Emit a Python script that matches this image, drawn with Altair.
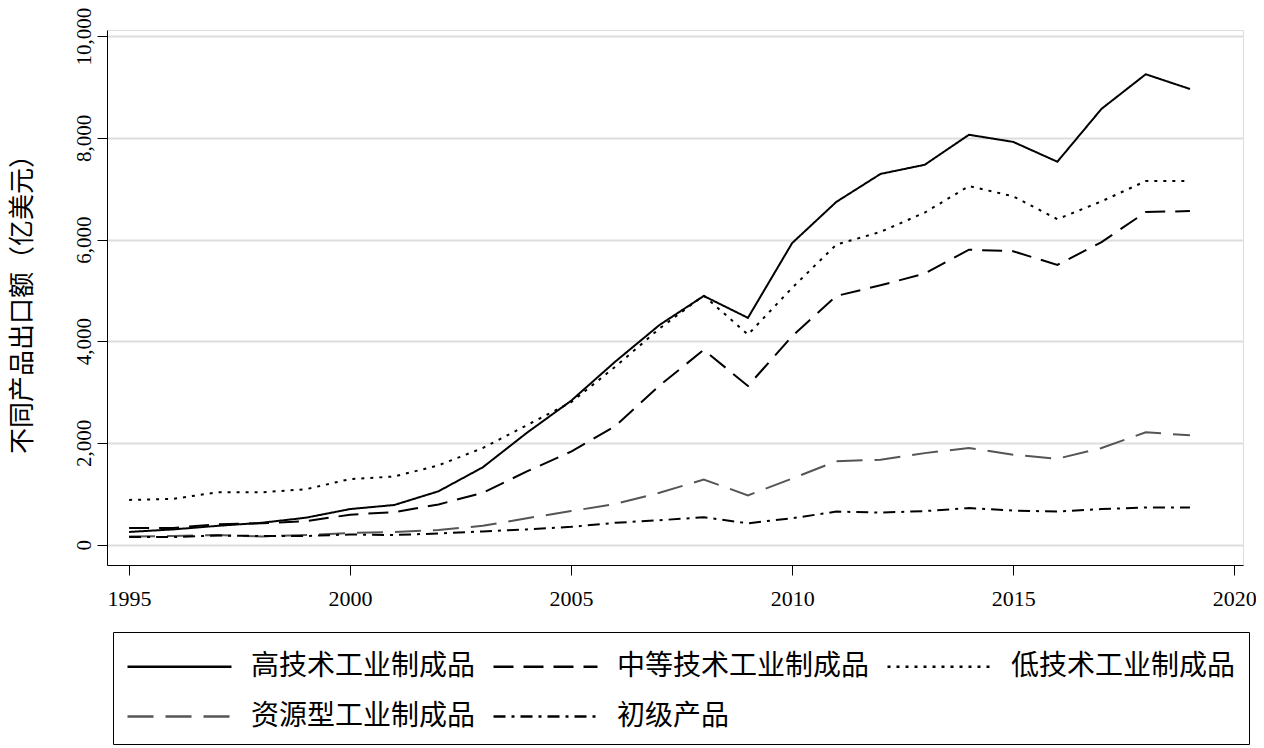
import altair as alt
import pandas as pd

years = list(range(1995, 2020))
series_names = ["高技术工业制成品", "中等技术工业制成品", "低技术工业制成品", "资源型工业制成品", "初级产品"]
high_tech = [250, 300, 370, 430, 530, 700, 780, 1050, 1520, 2200, 2830, 3600, 4320, 4890, 4460, 5930, 6740, 7290, 7470, 8060, 7920, 7530, 8570, 9250, 8960]
medium_tech = [330, 330, 400, 420, 460, 590, 640, 790, 1020, 1440, 1830, 2330, 3130, 3830, 3120, 4100, 4890, 5100, 5330, 5800, 5770, 5500, 5950, 6540, 6560]
low_tech = [880, 900, 1030, 1030, 1090, 1290, 1340, 1560, 1900, 2350, 2800, 3500, 4250, 4900, 4130, 5050, 5900, 6150, 6530, 7050, 6850, 6400, 6750, 7150, 7150]
resource = [160, 170, 190, 160, 190, 230, 250, 290, 370, 520, 660, 800, 1020, 1280, 970, 1300, 1640, 1670, 1800, 1900, 1770, 1690, 1900, 2210, 2150]
primary = [150, 150, 180, 170, 170, 200, 190, 220, 260, 300, 350, 430, 480, 540, 420, 520, 650, 630, 660, 720, 670, 650, 700, 730, 730]
x_ticks = [1995, 2000, 2005, 2010, 2015, 2020]
y_ticks = [0, 2000, 4000, 6000, 8000, 10000]

rows = []
for name, vals in zip(series_names, [high_tech, medium_tech, low_tech, resource, primary]):
    for yr, v in zip(years, vals):
        rows.append({"year": yr, "value": v, "series": name})
df = pd.DataFrame(rows)

FONT = "Liberation Serif, Times New Roman, Noto Sans CJK SC"

legend_opts = dict(
    title=None, orient="none", legendX=6, legendY=602,
    direction="horizontal", columns=3,
    symbolType="M-1,0H4.2", symbolSize=1600,
    symbolStrokeWidth=2.5, symbolFillColor="transparent",
    labelFontSize=28, labelFont=FONT, labelColor="black",
    labelOffset=82, columnPadding=12, rowPadding=14,
    strokeColor="black", padding=13,
    labelLimit=400,
)

chart = alt.Chart(df).mark_line(strokeWidth=2).encode(
    x=alt.X("year:Q",
            scale=alt.Scale(domain=[1994.5, 2020.2], nice=False, zero=False),
            axis=alt.Axis(values=x_ticks, format="d", title="", grid=False,
                          tickSize=10, tickColor="black", domainColor="black",
                          labelFontSize=22, labelPadding=13, labelColor="black",
                          labelFont=FONT)),
    y=alt.Y("value:Q",
            scale=alt.Scale(domain=[-400, 10120], nice=False, zero=False),
            axis=alt.Axis(values=y_ticks, format=",d", title="不同产品出口额（亿美元）",
                          grid=True, gridColor="#dddddd", gridWidth=2,
                          tickSize=10, tickColor="black", domainColor="black",
                          labelFontSize=21, labelAngle=270, labelAlign="center",
                          labelBaseline="bottom", labelPadding=3, labelColor="black",
                          labelFont=FONT, titleFont=FONT, titleFontSize=26,
                          titleFontWeight="normal", titleColor="black", titlePadding=38)),
    color=alt.Color("series:N",
                    scale=alt.Scale(domain=series_names,
                                    range=["#000000", "#000000", "#000000", "#555555", "#000000"]),
                    legend=alt.Legend(**legend_opts)),
    strokeDash=alt.StrokeDash("series:N",
                              scale=alt.Scale(domain=series_names,
                                              range=[[1, 0], [20, 10], [3, 6], [26, 12], [12, 6, 3, 6]]),
                              legend=alt.Legend(**legend_opts)),
).properties(
    width=1136, height=535,
    autosize=alt.AutoSizeParams(type="none"),
    padding={"left": 99, "top": 22, "right": 13, "bottom": 180},
).configure_view(stroke=None).configure(background="white")

chart.save("out.html", embed_options={"renderer": "svg", "actions": False})
